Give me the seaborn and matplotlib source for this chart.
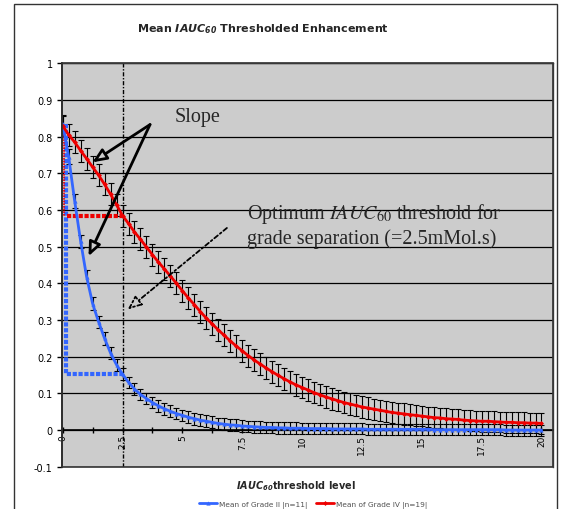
import numpy as np
import pandas as pd
import matplotlib
matplotlib.use('Agg')
import matplotlib.pyplot as plt
import seaborn as sns
from matplotlib.patches import Rectangle

# IAUC60 threshold levels (categories, 0 .. 20 in 0.25 steps)
threshold = np.arange(0, 20.001, 0.25)

grade2_mean = [
    0.835, 0.745, 0.625, 0.515, 0.418, 0.345, 0.295, 0.250, 0.210, 0.178,
    0.152, 0.130, 0.112, 0.097, 0.086, 0.075, 0.066, 0.058, 0.051, 0.045,
    0.040, 0.035, 0.031, 0.027, 0.024, 0.021, 0.018, 0.016, 0.014, 0.013,
    0.011, 0.010, 0.009, 0.008, 0.007, 0.007, 0.006, 0.006, 0.005, 0.005,
    0.005, 0.004, 0.004, 0.004, 0.004, 0.003, 0.003, 0.003, 0.003, 0.003,
    0.003, 0.002, 0.002, 0.002, 0.002, 0.002, 0.002, 0.002, 0.002, 0.002,
    0.002, 0.002, 0.001, 0.001, 0.001, 0.001, 0.001, 0.001, 0.001, 0.001,
    0.001, 0.001, 0.001, 0.001, 0.000, 0.000, 0.000, 0.000, 0.000, 0.000,
    0.000,
]
grade2_err = [
    0.020, 0.020, 0.019, 0.018, 0.018, 0.018, 0.017, 0.017, 0.016, 0.016,
    0.016, 0.016, 0.016, 0.016, 0.016, 0.016, 0.016, 0.016, 0.016, 0.016,
    0.016, 0.016, 0.016, 0.016, 0.016, 0.016, 0.016, 0.016, 0.016, 0.016,
    0.016, 0.016, 0.016, 0.016, 0.016, 0.016, 0.016, 0.016, 0.016, 0.016,
    0.015, 0.015, 0.015, 0.015, 0.015, 0.015, 0.015, 0.015, 0.015, 0.015,
    0.015, 0.015, 0.015, 0.015, 0.015, 0.015, 0.015, 0.015, 0.015, 0.015,
    0.015, 0.015, 0.015, 0.015, 0.015, 0.015, 0.015, 0.015, 0.015, 0.015,
    0.015, 0.015, 0.015, 0.015, 0.015, 0.015, 0.015, 0.015, 0.015, 0.015,
    0.015,
]
grade4_mean = [
    0.830, 0.805, 0.785, 0.762, 0.740, 0.717, 0.695, 0.670, 0.643, 0.614,
    0.585, 0.563, 0.540, 0.520, 0.499, 0.478, 0.458, 0.439, 0.420, 0.400,
    0.380, 0.360, 0.342, 0.323, 0.305, 0.289, 0.273, 0.258, 0.243, 0.229,
    0.216, 0.203, 0.191, 0.180, 0.169, 0.159, 0.149, 0.140, 0.131, 0.123,
    0.116, 0.109, 0.102, 0.096, 0.090, 0.085, 0.080, 0.075, 0.071, 0.067,
    0.063, 0.060, 0.057, 0.054, 0.051, 0.048, 0.046, 0.044, 0.042, 0.040,
    0.038, 0.036, 0.034, 0.033, 0.031, 0.030, 0.029, 0.027, 0.026, 0.025,
    0.024, 0.024, 0.023, 0.022, 0.021, 0.021, 0.020, 0.020, 0.019, 0.019,
    0.018,
]
grade4_err = [
    0.030, 0.030, 0.030, 0.030, 0.030, 0.030, 0.030, 0.030, 0.030, 0.030,
    0.030, 0.030, 0.030, 0.030, 0.030, 0.030, 0.030, 0.030, 0.030, 0.030,
    0.030, 0.030, 0.030, 0.030, 0.030, 0.030, 0.030, 0.030, 0.030, 0.030,
    0.030, 0.030, 0.030, 0.030, 0.030, 0.030, 0.030, 0.030, 0.030, 0.030,
    0.029, 0.029, 0.029, 0.029, 0.029, 0.029, 0.029, 0.029, 0.029, 0.029,
    0.029, 0.029, 0.029, 0.029, 0.029, 0.029, 0.029, 0.029, 0.029, 0.029,
    0.028, 0.028, 0.028, 0.028, 0.028, 0.028, 0.028, 0.028, 0.028, 0.028,
    0.028, 0.028, 0.028, 0.028, 0.028, 0.028, 0.028, 0.028, 0.028, 0.028,
    0.028,
]

grade2_label = 'Mean of Grade II |n=11|'
grade4_label = 'Mean of Grade IV |n=19|'
optimum = 2.5

ytick_vals = [-0.1, 0, 0.1, 0.2, 0.3, 0.4, 0.5, 0.6, 0.7, 0.8, 0.9, 1]
ytick_labels = ['-0.1', '0', '0.1', '0.2', '0.3', '0.4', '0.5', '0.6', '0.7', '0.8', '0.9', '1']
xtick_vals = [0, 2.5, 5, 7.5, 10, 12.5, 15, 17.5, 20]
xtick_labels = ['0', '2.5', '5', '7.5', '10', '12.5', '15', '17.5', '20']
xtick_minor = [1.25, 3.75, 6.25, 8.75, 11.25, 13.75, 16.25, 18.75]

df = pd.DataFrame({'x': threshold, 'g2': grade2_mean, 'g2e': grade2_err,
                   'g4': grade4_mean, 'g4e': grade4_err})

BLUE = '#3366FF'
RED = '#EE0000'
BG = '#CCCCCC'

sns.set_theme(style='white')
plt.rcParams['font.family'] = ['DejaVu Sans']

fig = plt.figure(figsize=(5.63, 5.10), dpi=100)
ax = fig.add_axes([0.1096, 0.0829, 0.8726, 0.791])
ax.set_facecolor(BG)

# error bars
ax.errorbar(df['x'], df['g4'], yerr=df['g4e'], fmt='none', ecolor='black',
            elinewidth=0.8, capsize=2.4, capthick=0.8, zorder=2)
ax.errorbar(df['x'], df['g2'], yerr=df['g2e'], fmt='none', ecolor='black',
            elinewidth=0.8, capsize=2.4, capthick=0.8, zorder=2)

# threshold guide lines
i_opt = int(np.argmin(np.abs(threshold - optimum)))
ax.plot([0.15, 0.15, optimum], [grade2_mean[0], grade2_mean[i_opt], grade2_mean[i_opt]],
        color=BLUE, lw=3, ls=(0, (1, 0.4)), zorder=3)
ax.plot([0.06, 0.06], [grade4_mean[0], grade4_mean[i_opt]],
        color=RED, lw=1.2, ls=(0, (1, 0.6)), zorder=3)
ax.plot([0.2, optimum], [grade4_mean[i_opt], grade4_mean[i_opt]],
        color=RED, lw=3, ls=(0, (1, 0.4)), zorder=3)
ax.axvline(optimum, color='black', lw=1, ls=(0, (3, 1.2, 1, 1.2)), zorder=2.5)

# mean curves
sns.lineplot(data=df, x='x', y='g2', ax=ax, color=BLUE, lw=2, marker='^',
             markersize=3, markeredgewidth=0, label=grade2_label, zorder=4)
sns.lineplot(data=df, x='x', y='g4', ax=ax, color=RED, lw=2, marker='D',
             markersize=2.5, markeredgewidth=0, label=grade4_label, zorder=4)

ax.set_xlim(-0.04, 20.48)
ax.set_ylim(-0.1, 1)
ax.set_xlabel('')
ax.set_ylabel('')

ax.set_yticks(ytick_vals)
ax.set_yticklabels(ytick_labels)
ax.yaxis.grid(True, color='black', lw=0.9)
ax.xaxis.grid(False)
ax.tick_params(axis='y', direction='out', length=3.5, width=1, labelsize=7,
               pad=3, left=True, colors='black')

ax.spines['bottom'].set_position(('data', 0))
for s in ['left', 'bottom']:
    ax.spines[s].set_color('black')
    ax.spines[s].set_linewidth(1.2)
for s in ['top', 'right']:
    ax.spines[s].set_color('#555555')
    ax.spines[s].set_linewidth(1)
ax.add_patch(Rectangle((0, 0), 1, 1, transform=ax.transAxes, fill=False,
                       ec='#333333', lw=1.2, clip_on=False, zorder=5))

ax.set_xticks(xtick_vals)
ax.set_xticklabels(xtick_labels)
ax.set_xticks(xtick_minor, minor=True)
ax.tick_params(axis='x', which='both', direction='inout', length=4, width=1,
               bottom=True, colors='black')
ax.tick_params(axis='x', which='major', labelrotation=90, labelsize=6.5, pad=1)

# annotations
ax.text(4.66, 0.842, 'Slope', family='Liberation Serif', fontsize=14.5,
        va='baseline', ha='left', zorder=6)
arrow_kw = dict(arrowstyle='-|>,head_length=0.7,head_width=0.3', lw=2,
                ec='black', fc=BG, shrinkA=0, shrinkB=0)
ax.annotate('', xy=(1.24, 0.730), xytext=(3.65, 0.833), arrowprops=arrow_kw, zorder=6)
ax.annotate('', xy=(1.08, 0.474), xytext=(3.65, 0.833), arrowprops=arrow_kw, zorder=6)

ax.text(7.69, 0.579, r'Optimum $\mathit{IAUC}_{60}$ threshold for',
        family='Liberation Serif', math_fontfamily='stix', fontsize=14.5,
        va='baseline', ha='left', zorder=6)
ax.text(7.69, 0.511, 'grade separation (=2.5mMol.s)',
        family='Liberation Serif', fontsize=14.5, va='baseline', ha='left', zorder=6)
ax.annotate('', xy=(2.72, 0.329), xytext=(6.86, 0.551),
            arrowprops=dict(arrowstyle='-|>,head_length=0.7,head_width=0.3', lw=1.3,
                            linestyle=(0, (2.5, 1.5, 1, 1.5)), ec='black', fc=BG,
                            shrinkA=0, shrinkB=0), zorder=6)

# title and axis title
fig.text(263 / 563, 1 - 28.7 / 510,
         r'Mean $\mathbfit{IAUC}_{\mathbfit{60}}$ Thresholded Enhancement',
         fontweight='bold', fontsize=8, math_fontfamily='dejavusans',
         ha='center', va='center')
fig.text(296 / 563, 1 - 486 / 510, r'$\mathbfit{IAUC}_{\mathbfit{60}}$threshold level',
         fontweight='bold', fontsize=7, math_fontfamily='dejavusans',
         ha='center', va='center')

ax.legend(loc='center', bbox_to_anchor=(313 / 563, 1 - 505 / 510),
          bbox_transform=fig.transFigure, ncol=2, frameon=False, fontsize=5.3,
          handlelength=2.5, columnspacing=1.2, handletextpad=0.2,
          labelcolor='#505050')

# chart area border
fig.patches.append(Rectangle((14 / 563, -0.02), (557 - 14) / 563, 1.02 - 5.4 / 510,
                             transform=fig.transFigure, fill=False,
                             ec='#333333', lw=1))

plt.savefig('out.png', dpi=100)
